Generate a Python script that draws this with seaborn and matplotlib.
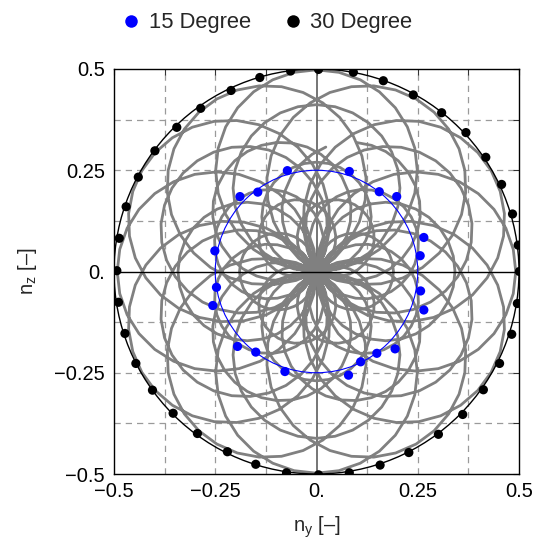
import numpy as np
import pandas as pd
import matplotlib
matplotlib.use("Agg")
import matplotlib.pyplot as plt
from matplotlib.lines import Line2D
from matplotlib.patches import Circle
import seaborn as sns

sns.set_theme(style="white")
plt.rcParams["font.family"] = ["Liberation Sans", "DejaVu Sans"]
plt.rcParams["mathtext.fontset"] = "custom"
plt.rcParams["mathtext.rm"] = "Liberation Sans"
plt.rcParams["mathtext.it"] = "Liberation Sans:italic"

# ---- measured points: 30 degree tilt (black) ----
deg30_ny = [0.005, 0.091, 0.165, 0.239, 0.309, 0.369, 0.418, 0.457, 0.484, 0.498,
            0.501, 0.496, 0.482, 0.452, 0.412, 0.361, 0.301, 0.228, 0.157, 0.081,
            0.005, -0.074, -0.150, -0.220, -0.294, -0.354, -0.405, -0.446, -0.473, -0.489,
            -0.493, -0.487, -0.470, -0.440, -0.399, -0.345, -0.286, -0.211, -0.140, -0.064]
deg30_nz = [0.499, 0.492, 0.471, 0.436, 0.392, 0.343, 0.282, 0.215, 0.142, 0.065,
            0.000, -0.079, -0.155, -0.227, -0.292, -0.353, -0.402, -0.447, -0.478, -0.497,
            -0.502, -0.497, -0.476, -0.445, -0.400, -0.350, -0.293, -0.227, -0.153, -0.076,
            0.002, 0.082, 0.160, 0.233, 0.298, 0.356, 0.403, 0.447, 0.479, 0.495]

# ---- measured points: 15 degree tilt (blue) ----
deg15_ny = [-0.072, 0.081, 0.155, 0.198, 0.265, 0.256, 0.257, 0.265, 0.194, 0.149,
            0.109, 0.079, -0.078, -0.150, -0.195, -0.256, -0.247, -0.251, -0.189, -0.145]
deg15_nz = [0.249, 0.247, 0.197, 0.185, 0.084, 0.039, -0.048, -0.095, -0.191, -0.202,
            -0.223, -0.256, -0.247, -0.199, -0.185, -0.084, -0.039, 0.051, 0.185, 0.196]

# ---- reference circle radii ----
ring_radius_30 = 0.5
ring_radius_15 = 0.25

# ---- gray trajectory: loops through the origin (radius, direction of loop centre in deg) ----
loop_radius = [0.095, 0.095, 0.095, 0.095, 0.095, 0.095,
               0.135, 0.135, 0.135, 0.135, 0.135, 0.135,
               0.171, 0.171, 0.171, 0.171, 0.171, 0.171,
               0.206, 0.206, 0.206, 0.206, 0.206, 0.206,
               0.246, 0.246, 0.246, 0.246, 0.246, 0.246,
               0.249, 0.249, 0.249, 0.249, 0.249, 0.249]
loop_angle = [0, 60, 120, 180, 240, 300,
              30, 90, 150, 210, 270, 330,
              0, 60, 120, 180, 240, 300,
              30, 90, 150, 210, 270, 330,
              0, 60, 120, 180, 240, 300,
              30, 90, 150, 210, 270, 330]
gap_loop = 13
gap_span = (33.0, 47.0)   # degrees (relative to loop direction) left open in that loop

# build trajectory table
rows = []
seg = 0
n_per_loop = 28
for k, (r, a_deg) in enumerate(zip(loop_radius, loop_angle)):
    a = np.deg2rad(a_deg)
    cy, cz = r * np.cos(a), r * np.sin(a)
    for j in range(n_per_loop + 1):
        th = a + np.pi + 2 * np.pi * j / n_per_loop
        rel = (np.rad2deg(th - a) + 180) % 360 - 180
        if k == gap_loop and gap_span[0] < rel < gap_span[1]:
            if rows and rows[-1][2] == seg:
                seg += 1
            continue
        rows.append((cy + r * np.cos(th), cz + r * np.sin(th), seg))
traj = pd.DataFrame(rows, columns=["ny", "nz", "seg"])

fig = plt.figure(figsize=(5.35, 5.43), dpi=100)
ax = fig.add_axes([114 / 535, (543 - 474) / 543, 405 / 535, 405 / 543])

ticks = [-0.5, -0.375, -0.25, -0.125, 0.0, 0.125, 0.25, 0.375, 0.5]
labels = ["\u22120.5", "", "\u22120.25", "", "0.", "", "0.25", "", "0.5"]
ax.set_xlim(-0.5, 0.5)
ax.set_ylim(-0.5, 0.5)
ax.set_xticks(ticks)
ax.set_xticklabels(labels)
ax.set_yticks(ticks)
ax.set_yticklabels(labels)
ax.tick_params(direction="in", length=4, width=0.8, color="#333333",
               top=True, right=True, labelsize=14.5, pad=5.5, labelcolor="black")
ax.tick_params(axis="y", pad=6.5)
for s in ax.spines.values():
    s.set_color("black")
    s.set_linewidth(1.0)

for t in [-0.375, -0.25, -0.125, 0.125, 0.25, 0.375]:
    ax.axvline(t, color="#9a9a9a", lw=0.9, ls=(0, (5, 4)), zorder=0.5)
    ax.axhline(t, color="#9a9a9a", lw=0.9, ls=(0, (5, 4)), zorder=0.5)
ax.axhline(0, color="black", lw=1.0, zorder=2.5)
ax.axvline(0, color="#505050", lw=1.1, zorder=1)

sns.lineplot(data=traj, x="ny", y="nz", units="seg", estimator=None, sort=False,
             color="#808080", lw=2.0, ax=ax, zorder=2, legend=False)

ax.add_patch(Circle((0, 0), ring_radius_30, fill=False, ec="black", lw=1.0, zorder=3))
ax.add_patch(Circle((0, 0), ring_radius_15, fill=False, ec="#0000ff", lw=0.8, zorder=3))

sns.scatterplot(x=deg15_ny, y=deg15_nz, color="#0000ff", s=44, edgecolor="none", ax=ax, zorder=4)
sns.scatterplot(x=deg30_ny, y=deg30_nz, color="black", s=44, edgecolor="none", ax=ax, zorder=4)

ax.set_xlabel("$\\mathregular{n_y}$ [\u2013]", fontsize=14.5)
ax.set_ylabel("$\\mathregular{n_z}$ [\u2013]", fontsize=14.5)
ax.xaxis.set_label_coords(0.5, -0.1)
ax.yaxis.set_label_coords(-0.185, 0.5)

handles = [Line2D([], [], ls="none", marker="o", ms=9, color="#0000ff", mec="none"),
           Line2D([], [], ls="none", marker="o", ms=9, color="black", mec="none")]
fig.legend(handles, ["15 Degree", "30 Degree"], loc="center", bbox_to_anchor=(0.498, 0.958),
           ncol=2, frameon=False, fontsize=15.8, handletextpad=0.3, columnspacing=1.4,
           handlelength=1.0)

fig.savefig("out.png", dpi=100)
